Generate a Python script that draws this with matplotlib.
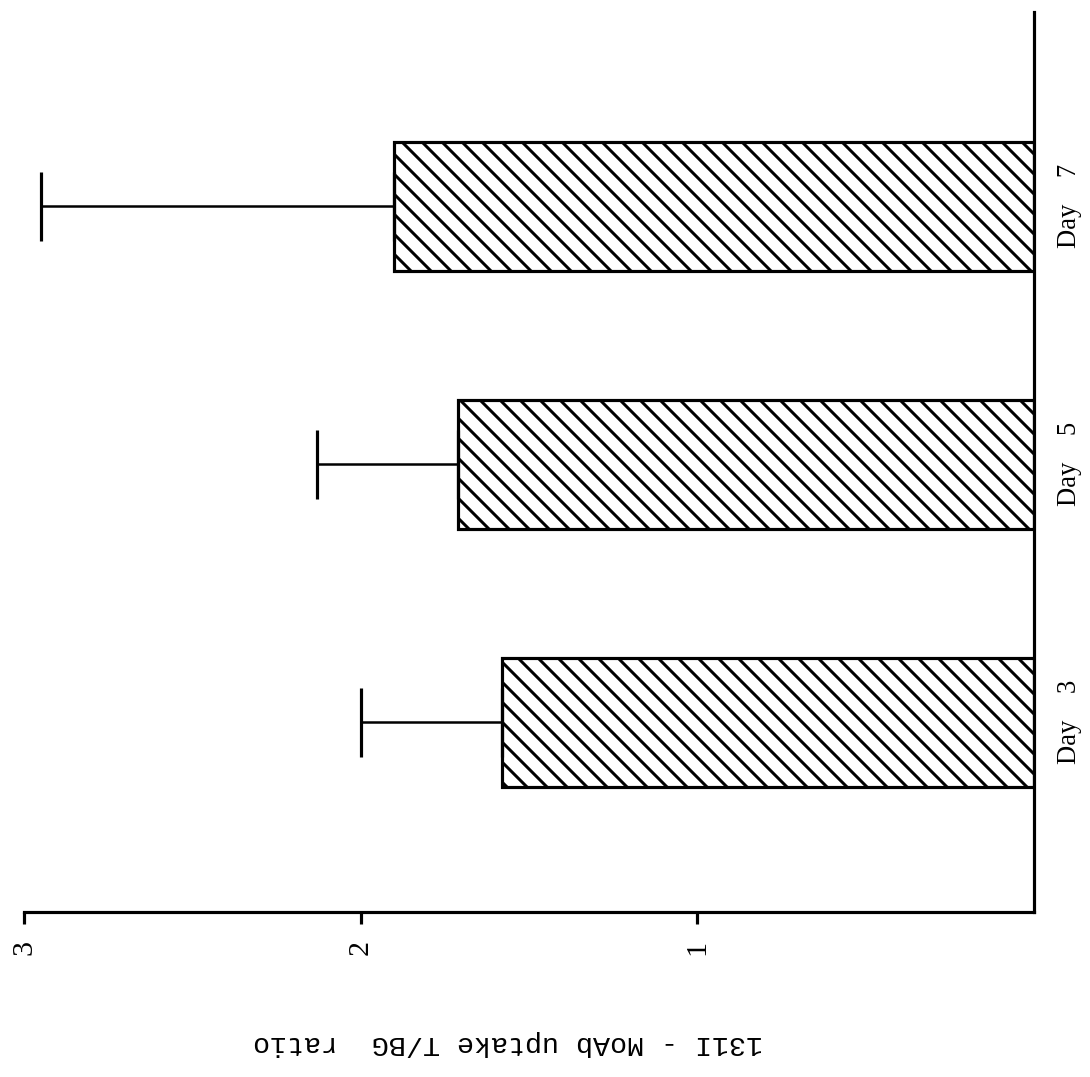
import matplotlib
matplotlib.use("Agg")
import matplotlib.pyplot as plt

days = ["Day    3", "Day    5", "Day    7"]
ratio = [1.58, 1.71, 1.90]
err_up = [0.42, 0.42, 1.05]
ticks = [1, 2, 3]

plt.rcParams['hatch.linewidth'] = 1.8
plt.rcParams['hatch.color'] = 'black'

fig = plt.figure(figsize=(1090/120, 1077/120), dpi=120)
ax = fig.add_axes([24/1090, 165/1077, 1010/1090, 900/1077])

ax.barh(days, ratio, height=0.5, color='white', edgecolor='black',
        linewidth=1.9, hatch='\\\\', zorder=2)
ax.errorbar(ratio, days, xerr=[[0]*len(ratio), err_up], fmt='none',
            ecolor='black', elinewidth=1.5, capsize=20.7, capthick=1.9, zorder=3)

ax.set_xlim(3.0, 0)
ax.set_ylim(-0.736, 2.752)

for s in ['top', 'left']:
    ax.spines[s].set_visible(False)
for s in ['bottom', 'right']:
    ax.spines[s].set_linewidth(1.9)

ax.set_xticks(ticks)
ax.set_xticklabels([str(t) for t in ticks], rotation=90,
                   fontfamily='Liberation Serif', fontsize=18)
ax.tick_params(axis='x', length=7, width=1.9, pad=10)

ax.yaxis.tick_right()
ax.tick_params(axis='y', length=0, pad=14)
for lab in ax.get_yticklabels():
    lab.set_rotation(90)
    lab.set_fontfamily('Liberation Serif')
    lab.set_fontsize(16)
    lab.set_va('center')

ax.set_xlabel("131I - MoAb uptake T/BG  ratio", fontfamily='Liberation Mono',
              fontsize=17, rotation=180, va='center', ha='center')
ax.xaxis.set_label_coords(0.479, -0.1456)

fig.savefig('out.png', dpi=120)
